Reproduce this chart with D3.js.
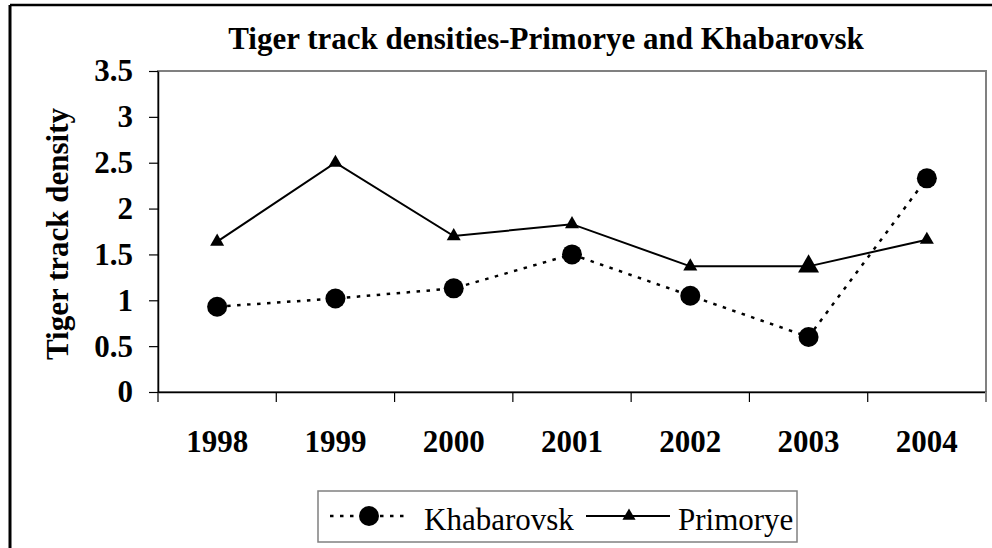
<!DOCTYPE html>
<html>
<head>
<meta charset="utf-8">
<script src="https://d3js.org/d3.v7.min.js"></script>
<style>
  body { margin: 0; background: #fff; }
  svg { display: block; }
  text { font-family: "Liberation Serif", "Times New Roman", serif; fill: #000; }
</style>
</head>
<body>
<script>
var w = 992;
var h = 548;
var serif = "'Liberation Serif', 'Times New Roman', serif";

// data
var years = ["1998", "1999", "2000", "2001", "2002", "2003", "2004"];
var khabarovsk = [0.93, 1.02, 1.13, 1.50, 1.05, 0.60, 2.33];
var primorye = [1.64, 2.50, 1.70, 1.83, 1.37, 1.37, 1.66];
var yTicks = [0, 0.5, 1, 1.5, 2, 2.5, 3, 3.5];

var plot = {left: 158, right: 986, top: 71, bottom: 392};

var svg = d3.select("body")
            .append("svg")
            .attr("width", w)
            .attr("height", h);

// outer frame (only top and left show)
svg.append("line")
   .attr("x1", 10).attr("y1", 5).attr("x2", 10).attr("y2", h)
   .attr("stroke", "#000").attr("stroke-width", 3);
svg.append("line")
   .attr("x1", 10).attr("y1", 5).attr("x2", w).attr("y2", 5)
   .attr("stroke", "#000").attr("stroke-width", 2.5);

svg.append("text")
   .attr("x", 546)
   .attr("y", 49)
   .attr("text-anchor", "middle")
   .attr("font-family", serif)
   .attr("font-size", 31)
   .attr("font-weight", "bold")
   .text("Tiger track densities-Primorye and Khabarovsk");

var x = d3.scaleBand()
          .domain(years)
          .range([plot.left, plot.right])
          .padding(0);

var y = d3.scaleLinear()
          .domain([0, 3.5])
          .range([plot.bottom, plot.top]);

// plot area border, gray
svg.append("rect")
   .attr("x", plot.left)
   .attr("y", plot.top)
   .attr("width", plot.right - plot.left)
   .attr("height", plot.bottom - plot.top)
   .attr("fill", "none")
   .attr("stroke", "#808080")
   .attr("stroke-width", 2);

var yAxis = svg.append("g")
   .attr("transform", "translate(" + plot.left + ",0)")
   .call(d3.axisLeft(y)
           .tickValues(yTicks)
           .tickFormat(function(d) { return String(d); })
           .tickSize(9)
           .tickSizeOuter(0)
           .tickPadding(16));
yAxis.attr("font-family", serif);
yAxis.select(".domain").attr("stroke", "#000").attr("stroke-width", 1.5);
yAxis.selectAll(".tick line").attr("stroke", "#000").attr("stroke-width", 1.2);
yAxis.selectAll("text")
     .attr("font-size", 31)
     .attr("font-weight", "bold")
     .attr("fill", "#000");

var xAxis = svg.append("g")
   .attr("transform", "translate(0," + plot.bottom + ")")
   .call(d3.axisBottom(x)
           .tickSize(0)
           .tickSizeOuter(0)
           .tickPadding(38));
xAxis.attr("font-family", serif);
xAxis.select(".domain").attr("stroke", "#000").attr("stroke-width", 1.5);
xAxis.selectAll("text")
     .attr("font-size", 31)
     .attr("font-weight", "bold")
     .attr("fill", "#000");

// category ticks sit between the years
var edges = years.map(function(d) { return x(d); });
edges.push(x.range()[1]);
xAxis.selectAll("line.edge")
     .data(edges)
     .enter()
     .append("line")
     .attr("class", "edge")
     .attr("x1", function(d) { return d; })
     .attr("x2", function(d) { return d; })
     .attr("y1", 0)
     .attr("y2", 10)
     .attr("stroke", function(d, i) { return i == edges.length - 1 ? "#808080" : "#000"; })
     .attr("stroke-width", function(d, i) { return i == edges.length - 1 ? 2 : 1.2; });

svg.append("text")
   .attr("transform", "translate(68," + 234 + ") rotate(-90)")
   .attr("text-anchor", "middle")
   .attr("font-family", serif)
   .attr("font-size", 31)
   .attr("font-weight", "bold")
   .text("Tiger track density");

var cx = function(d, i) { return x(years[i]) + x.bandwidth() / 2; };

var line = d3.line()
             .x(cx)
             .y(function(d) { return y(d); });

// Khabarovsk, dotted with circles
svg.append("path")
   .datum(khabarovsk)
   .attr("d", line)
   .attr("fill", "none")
   .attr("stroke", "#000")
   .attr("stroke-width", 2.5)
   .attr("stroke-dasharray", "3.5,6.5");

svg.selectAll("circle.kh")
   .data(khabarovsk)
   .enter()
   .append("circle")
   .attr("class", "kh")
   .attr("cx", cx)
   .attr("cy", function(d) { return y(d); })
   .attr("r", 10)
   .attr("fill", "#000");

// Primorye, solid with triangles
svg.append("path")
   .datum(primorye)
   .attr("d", line)
   .attr("fill", "none")
   .attr("stroke", "#000")
   .attr("stroke-width", 2);

svg.selectAll("path.pr")
   .data(primorye)
   .enter()
   .append("path")
   .attr("class", "pr")
   .attr("d", function(d, i) {
        // the 2003 marker comes out bigger in the original
        return d3.symbol().type(d3.symbolTriangle).size(years[i] == "2003" ? 190 : 85)();
   })
   .attr("transform", function(d, i) { return "translate(" + cx(d, i) + "," + y(d) + ")"; })
   .attr("fill", "#000");

// legend
var legend = svg.append("g").attr("font-family", serif);
legend.append("rect")
      .attr("x", 318).attr("y", 491)
      .attr("width", 479).attr("height", 51)
      .attr("fill", "#fff")
      .attr("stroke", "#808080")
      .attr("stroke-width", 1.5);

legend.append("line")
      .attr("x1", 330).attr("x2", 406).attr("y1", 516).attr("y2", 516)
      .attr("stroke", "#000").attr("stroke-width", 2.5)
      .attr("stroke-dasharray", "3.5,6.5");
legend.append("circle")
      .attr("cx", 369).attr("cy", 516).attr("r", 10)
      .attr("fill", "#000");
legend.append("text")
      .attr("x", 424).attr("y", 530)
      .attr("font-family", serif)
      .attr("font-size", 31)
      .text("Khabarovsk");

legend.append("line")
      .attr("x1", 586).attr("x2", 670).attr("y1", 516).attr("y2", 516)
      .attr("stroke", "#000").attr("stroke-width", 2);
legend.append("path")
      .attr("d", d3.symbol().type(d3.symbolTriangle).size(75)())
      .attr("transform", "translate(629,516)")
      .attr("fill", "#000");
legend.append("text")
      .attr("x", 678).attr("y", 530)
      .attr("font-family", serif)
      .attr("font-size", 31)
      .text("Primorye");
</script>
</body>
</html>
